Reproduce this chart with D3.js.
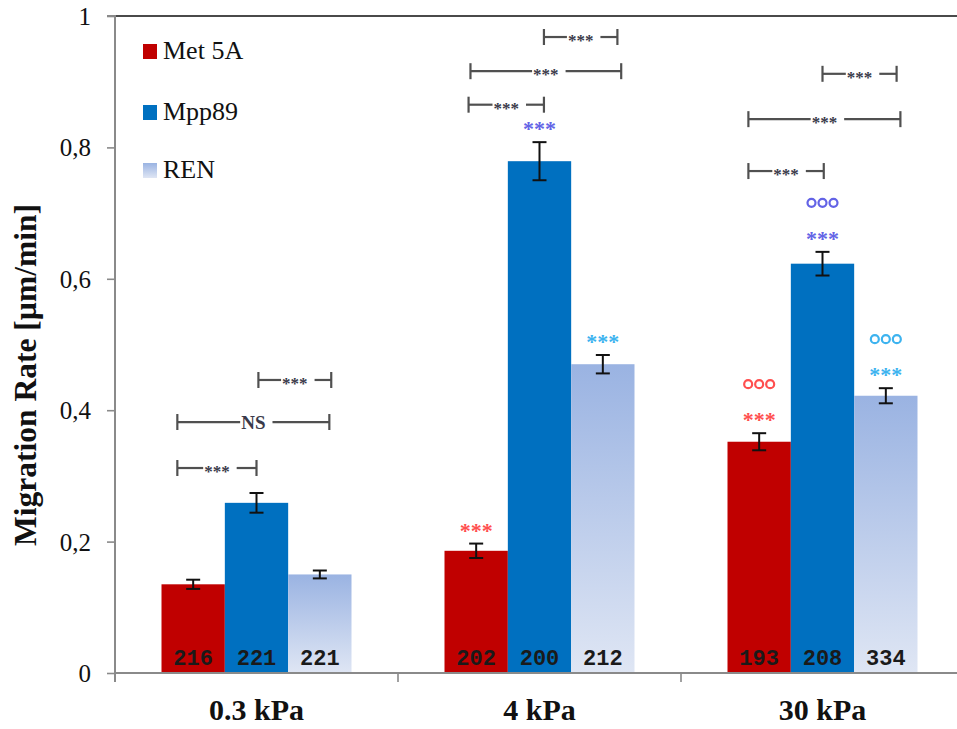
<!DOCTYPE html>
<html>
<head>
<meta charset="utf-8">
<script src="https://cdn.jsdelivr.net/npm/d3@7"></script>
<style>
  html, body { margin: 0; padding: 0; background: #fff; }
  svg { display: block; }
  .serif { font-family: "Liberation Serif", "DejaVu Serif", "Times New Roman", Times, serif; }
  .mono { font-family: "Liberation Mono", "DejaVu Sans Mono", "Courier New", monospace; }
</style>
</head>
<body>
<svg id="chart" width="957" height="729"></svg>
<script>
// Substrate stiffness groups and cell lines
const categories = ["0.3 kPa", "4 kPa", "30 kPa"];
const seriesNames = ["Met 5A", "Mpp89", "REN"];

// Mean migration rate (µm/min) per cell line, one value per stiffness
const met5aRate = [0.135, 0.186, 0.352];
const mpp89Rate = [0.259, 0.779, 0.623];
const renRate   = [0.150, 0.470, 0.422];

// Standard error of the mean
const met5aErr = [0.007, 0.011, 0.013];
const mpp89Err = [0.015, 0.029, 0.018];
const renErr   = [0.006, 0.014, 0.0115];

// Number of tracked cells
const met5aN = [216, 202, 193];
const mpp89N = [221, 200, 208];
const renN   = [221, 212, 334];

// Significance vs. 0.3 kPa (***) and vs. 4 kPa (ooo)
const met5aVsSoft = ["", "***", "***"];
const mpp89VsSoft = ["", "***", "***"];
const renVsSoft   = ["", "***", "***"];
const met5aVsMid  = [false, false, true];
const mpp89VsMid  = [false, false, true];
const renVsMid    = [false, false, true];

// Pairwise comparisons within a stiffness group:
// from/to are positions along the group measured in bar widths
const brackets = [
  { cat: "0.3 kPa", from: 0.25, to: 1.50, level: 0.312, label: "***" },
  { cat: "0.3 kPa", from: 0.25, to: 2.65, level: 0.382, label: "NS" },
  { cat: "0.3 kPa", from: 1.53, to: 2.68, level: 0.446, label: "***" },
  { cat: "4 kPa",   from: 0.38, to: 1.57, level: 0.865, label: "***" },
  { cat: "4 kPa",   from: 0.41, to: 2.79, level: 0.916, label: "***" },
  { cat: "4 kPa",   from: 1.57, to: 2.73, level: 0.968, label: "***" },
  { cat: "30 kPa",  from: 0.33, to: 1.52, level: 0.764, label: "***" },
  { cat: "30 kPa",  from: 0.33, to: 2.73, level: 0.843, label: "***" },
  { cat: "30 kPa",  from: 1.50, to: 2.67, level: 0.912, label: "***" }
];

const yTicks = [0, 0.2, 0.4, 0.6, 0.8, 1];

const fills = ["#c00000", "#0070c0", "url(#renFill)"];
const markColors = ["#ff4f4f", "#6363e6", "#3db3ef"];

const series = [
  { name: seriesNames[0], rate: met5aRate, err: met5aErr, n: met5aN, soft: met5aVsSoft, mid: met5aVsMid },
  { name: seriesNames[1], rate: mpp89Rate, err: mpp89Err, n: mpp89N, soft: mpp89VsSoft, mid: mpp89VsMid },
  { name: seriesNames[2], rate: renRate,   err: renErr,   n: renN,   soft: renVsSoft,   mid: renVsMid }
];

const svg = d3.select("#chart");

const defs = svg.append("defs");
const grad = defs.append("linearGradient")
  .attr("id", "renFill").attr("x1", 0).attr("y1", 0).attr("x2", 0).attr("y2", 1);
grad.append("stop").attr("offset", "0%").attr("stop-color", "#9ab3e2");
grad.append("stop").attr("offset", "100%").attr("stop-color", "#dfe6f4");

const plotLeft = 115, plotTop = 16, plotBottom = 673;

const y = d3.scaleLinear().domain([0, 1]).range([plotBottom, plotTop]);
const x0 = d3.scaleBand().domain(categories).range([plotLeft, plotLeft + 3 * 283]);
const groupPad = (x0.bandwidth() - 190) / 2;
const x1 = d3.scaleBand().domain(seriesNames).range([groupPad, groupPad + 190]);
const along = d3.scaleLinear().domain([0, 3]).range([groupPad, groupPad + 190]);

// Top frame line
svg.append("line")
  .attr("x1", plotLeft - 8).attr("x2", 957)
  .attr("y1", y(1)).attr("y2", y(1))
  .attr("stroke", "#4a4a4a").attr("stroke-width", 2.2);

// Bars
series.forEach((s, si) => {
  svg.append("g").selectAll("rect")
    .data(categories)
    .join("rect")
    .attr("x", c => x0(c) + x1(s.name))
    .attr("width", x1.bandwidth())
    .attr("y", (c, ci) => y(s.rate[ci]))
    .attr("height", (c, ci) => y(0) - y(s.rate[ci]))
    .attr("fill", fills[si]);
});

// Y axis
const yAxis = d3.axisLeft(y)
  .tickValues(yTicks)
  .tickFormat(d => d3.format("~g")(d).replace(".", ","))
  .tickSize(8).tickPadding(16);
const ya = svg.append("g").attr("transform", `translate(${plotLeft},0)`).call(yAxis);
ya.attr("font-family", null).attr("font-size", null);
ya.select(".domain").attr("stroke", "#8a8a8a").attr("stroke-width", 2)
  .attr("d", `M-8,${y(1)}H0V${plotBottom + 9}`);
ya.selectAll(".tick line").attr("stroke", "#8a8a8a").attr("stroke-width", 1.6);
ya.selectAll(".tick text")
  .attr("class", "serif").attr("font-size", 25).attr("fill", "#111")
  .attr("dy", "0.34em");

// X axis
const xAxis = d3.axisBottom(x0).tickSize(0).tickPadding(30);
const xa = svg.append("g").attr("transform", `translate(0,${plotBottom})`).call(xAxis);
xa.attr("font-family", null).attr("font-size", null);
xa.select(".domain").attr("stroke", "#8a8a8a").attr("stroke-width", 2)
  .attr("d", `M${plotLeft},0H957`);
xa.selectAll(".tick text")
  .attr("class", "serif").attr("font-size", 30).attr("font-weight", "bold")
  .attr("fill", "#111").attr("dy", "0.55em");
// Category separators
xa.append("g").selectAll("line")
  .data(categories.slice(1))
  .join("line")
  .attr("x1", d => x0(d)).attr("x2", d => x0(d))
  .attr("y1", 0).attr("y2", 9)
  .attr("stroke", "#8a8a8a").attr("stroke-width", 1.6);

// Error bars, cell counts and significance marks
series.forEach((s, si) => {
  categories.forEach((c, ci) => {
    const cx = x0(c) + x1(s.name) + x1.bandwidth() / 2;
    const hi = y(s.rate[ci] + s.err[ci]);
    const lo = y(s.rate[ci] - s.err[ci]);
    const eg = svg.append("g").attr("stroke", "#111").attr("stroke-width", 2);
    eg.append("line").attr("x1", cx).attr("x2", cx).attr("y1", hi).attr("y2", lo);
    eg.append("line").attr("x1", cx - 7).attr("x2", cx + 7).attr("y1", hi).attr("y2", hi);
    eg.append("line").attr("x1", cx - 7).attr("x2", cx + 7).attr("y1", lo).attr("y2", lo);

    svg.append("text")
      .attr("class", "mono")
      .attr("x", cx).attr("y", y(0) - 8)
      .attr("text-anchor", "middle")
      .attr("font-weight", "bold").attr("font-size", 22)
      .attr("fill", "#1a1a1a")
      .text(s.n[ci]);

    if (s.soft[ci]) {
      const starY = hi - 16;
      svg.append("text")
        .attr("class", "serif")
        .attr("x", cx).attr("y", starY + 10)
        .attr("text-anchor", "middle")
        .attr("font-weight", "bold").attr("font-size", 22)
        .attr("fill", markColors[si])
        .text(s.soft[ci]);
      if (s.mid[ci]) {
        svg.append("g").selectAll("circle")
          .data([-1, 0, 1])
          .join("circle")
          .attr("cx", k => cx + k * 11).attr("cy", starY - 33)
          .attr("r", 4)
          .attr("fill", "none").attr("stroke", markColors[si]).attr("stroke-width", 2.2);
      }
    }
  });
});

// Comparison brackets
brackets.forEach(b => {
  const xa0 = x0(b.cat) + along(b.from);
  const xb0 = x0(b.cat) + along(b.to);
  const by = y(b.level);
  const mid = (xa0 + xb0) / 2;
  const isNS = b.label === "NS";
  const t = svg.append("text")
    .attr("class", "serif")
    .attr("x", mid).attr("y", isNS ? by + 7 : by + 9)
    .attr("text-anchor", "middle")
    .attr("font-weight", "bold")
    .attr("font-size", isNS ? 19 : 17)
    .attr("fill", "#3a3a4a")
    .text(b.label);
  const w = t.node().getComputedTextLength();
  const bg = svg.append("g").attr("stroke", "#505050").attr("stroke-width", 2.2);
  bg.append("line").attr("x1", xa0).attr("x2", mid - w / 2 - 1).attr("y1", by).attr("y2", by);
  bg.append("line").attr("x1", mid + w / 2 + 7).attr("x2", xb0).attr("y1", by).attr("y2", by);
  bg.append("line").attr("x1", xa0).attr("x2", xa0).attr("y1", by - 8).attr("y2", by + 8);
  bg.append("line").attr("x1", xb0).attr("x2", xb0).attr("y1", by - 8).attr("y2", by + 8);
});

// Y axis title
svg.append("text")
  .attr("class", "serif")
  .attr("transform", `translate(36,${(203 + 547) / 2}) rotate(-90)`)
  .attr("text-anchor", "middle")
  .attr("font-weight", "bold").attr("font-size", 31.5)
  .attr("fill", "#111")
  .text("Migration Rate [µm/min]");

// Legend
const legend = svg.append("g").selectAll("g")
  .data(seriesNames).join("g")
  .attr("transform", (d, i) => `translate(143,${[44, 105, 163][i]})`);
legend.append("rect")
  .attr("width", 14).attr("height", 15)
  .attr("fill", (d, i) => fills[i]);
legend.append("text")
  .attr("class", "serif")
  .attr("x", 20).attr("y", 15)
  .attr("font-size", 26).attr("fill", "#111")
  .text(d => d);
</script>
</body>
</html>
